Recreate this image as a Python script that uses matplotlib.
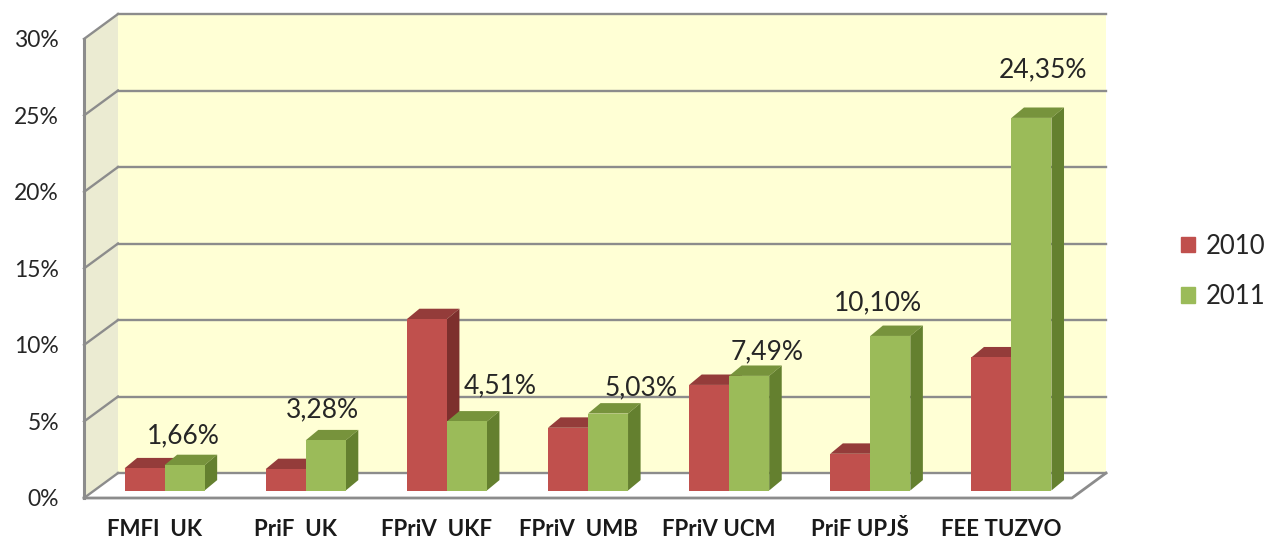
import matplotlib
matplotlib.use("Agg")
import matplotlib.pyplot as plt
from matplotlib.patches import Polygon, Patch

plt.rcParams['font.family'] = ['Lato', 'DejaVu Sans']

categories = ["FMFI  UK", "PriF  UK", "FPriV  UKF", "FPriV  UMB", "FPriV UCM", "PriF UPJŠ", "FEE TUZVO"]
vals_2010 = [1.45, 1.40, 11.20, 4.10, 6.90, 2.40, 8.70]
vals_2011 = [1.66, 3.28, 4.51, 5.03, 7.49, 10.10, 24.35]
labels_2011 = ["1,66%", "3,28%", "4,51%", "5,03%", "7,49%", "10,10%", "24,35%"]
series_names = ["2010", "2011"]
yticks = [0, 5, 10, 15, 20, 25, 30]

# label nudges (pixels) relative to the front-top centre of each 2011 bar
label_dx = [-1, -3, 33, 33, 18, -12, 12]
label_dy = [29, 30, 36, 26, 24, 33, 48]

# oblique "3d" geometry in data units (1 category = 141 px, 1 % = 15.3 px)
box_dx, box_dy = 0.241, 1.63      # wall depth
bar_off_x, bar_off_y = 0.071, 0.49   # bars sit a bit behind the front edge
bar_dx, bar_dy = 0.089, 0.68      # bar depth
bar_w = 0.2835
pair_left = 0.2165
ymax = 30

faces = {
    "2010": ("#C0504D", "#943C3A", "#7D2F2D"),
    "2011": ("#9BBB59", "#77933C", "#64802F"),
}
grid_c = "#8C8C8C"

fig = plt.figure(figsize=(12.68, 5.45), dpi=100)
ax = fig.add_axes([84 / 1268, 47 / 545, 1022 / 1268, 484 / 545])
n = len(categories)
ax.set_xlim(0, n + box_dx)
ax.set_ylim(0, ymax + box_dy)
for s in ax.spines.values():
    s.set_visible(False)

# walls and floor
ax.add_patch(Polygon([(0, 0), (0, ymax), (box_dx, ymax + box_dy), (box_dx, box_dy)],
                     closed=True, fc="#EBEBD2", ec="none", zorder=0))
ax.add_patch(Polygon([(box_dx, box_dy), (box_dx, ymax + box_dy), (n + box_dx, ymax + box_dy),
                      (n + box_dx, box_dy)], closed=True, fc="#FFFFD5", ec="none", zorder=0))
ax.add_patch(Polygon([(0, 0), (n, 0), (n + box_dx, box_dy), (box_dx, box_dy)],
                     closed=True, fc="white", ec="none", zorder=0))

for t in yticks:
    ax.plot([box_dx, n + box_dx], [t + box_dy, t + box_dy], color=grid_c, lw=1.7, zorder=1, clip_on=False)
    ax.plot([0, box_dx], [t, t + box_dy], color=grid_c, lw=1.7, zorder=1, clip_on=False)
ax.plot([0, 0], [0, ymax], color=grid_c, lw=2.2, zorder=1, clip_on=False)
ax.plot([0, n, n + box_dx], [0, 0, box_dy], color=grid_c, lw=2.0, zorder=1, clip_on=False)

# bars
for k, (name, vals) in enumerate([("2010", vals_2010), ("2011", vals_2011)]):
    front, top, side = faces[name]
    xs = [i + bar_off_x + pair_left + k * bar_w for i in range(n)]
    ax.bar(xs, vals, width=bar_w, bottom=bar_off_y, align="edge", color=front,
           edgecolor="none", zorder=3 + k * 3)
    for x, v in zip(xs, vals):
        h = v + bar_off_y
        ax.add_patch(Polygon([(x, h), (x + bar_dx, h + bar_dy), (x + bar_w + bar_dx, h + bar_dy),
                              (x + bar_w, h)], closed=True, fc=top, ec="none", zorder=2 + k * 3))
        ax.add_patch(Polygon([(x + bar_w, bar_off_y), (x + bar_w + bar_dx, bar_off_y + bar_dy),
                              (x + bar_w + bar_dx, h + bar_dy), (x + bar_w, h)],
                             closed=True, fc=side, ec="none", zorder=2 + k * 3))
    if name == "2011":
        for x, v, lab, dx, dy in zip(xs, vals, labels_2011, label_dx, label_dy):
            ax.annotate(lab, (x + bar_w / 2, v + bar_off_y), xytext=(dx, dy),
                        textcoords="offset pixels", ha="center", va="center",
                        fontsize=19, color="#262626", zorder=10, annotation_clip=False)

ax.set_yticks(yticks)
ax.set_yticklabels([f"{t}%" for t in yticks], fontsize=16.5, color="#262626")
ax.set_xticks([i + 0.5 for i in range(n)])
ax.set_xticklabels(categories, fontsize=16, fontweight="bold", color="#1a1a1a")
ax.tick_params(axis="y", length=0, pad=18)
ax.tick_params(axis="x", length=0, pad=15)

handles = [Patch(color=faces[s][0], label=s) for s in series_names]
fig.legend(handles=handles, loc="center left", bbox_to_anchor=(1181 / 1268, 0.502),
           frameon=False, fontsize=18.5, handlelength=0.55, handleheight=0.55,
           handletextpad=0.4, labelspacing=1.0, borderpad=0, borderaxespad=0,
           labelcolor="#262626")

fig.savefig("out.png", dpi=100)
